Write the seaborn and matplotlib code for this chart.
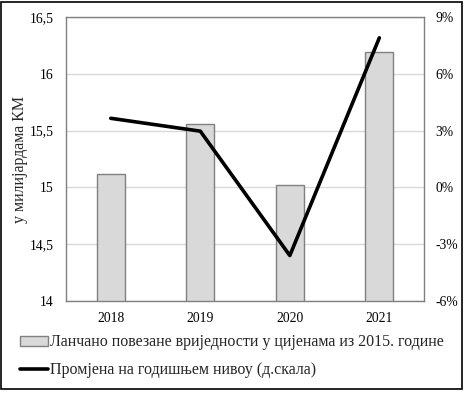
import numpy as np
import pandas as pd
import matplotlib
matplotlib.use("Agg")
import matplotlib.pyplot as plt
import seaborn as sns
from matplotlib.ticker import FuncFormatter, MultipleLocator
from matplotlib.patches import Rectangle

# -------------------------------
# Data
# -------------------------------
years = ["2018", "2019", "2020", "2021"]
gdp_bn = [15.12, 15.56, 15.02, 16.19]          # у милијардама КМ
yoy_change = [3.65, 2.97, -3.6, 7.9]           # % (десна скала)

bar_label = "Ланчано повезане вриједности у цијенама из 2015. године"
line_label = "Промјена на годишњем нивоу (д.скала)"
y_label = "у милијардама КМ"

df = pd.DataFrame({"Year": years, "GDP": gdp_bn, "Change": yoy_change})

# -------------------------------
# Style
# -------------------------------
sns.set_theme(style="white")
plt.rcParams["font.family"] = ["Liberation Serif", "DejaVu Serif"]

GRID = "#d9d9d9"
EDGE = "#808080"

fig = plt.figure(figsize=(4.65, 3.96), dpi=100)
ax = fig.add_axes([0.142, 0.240, 0.770, 0.717])

sns.barplot(data=df, x="Year", y="GDP", color="#d9d9d9", edgecolor=EDGE,
            linewidth=1.0, width=0.31, saturation=1, ax=ax, zorder=2)

ax.set_ylim(14, 16.5)
ax.yaxis.set_major_locator(MultipleLocator(0.5))
ax.yaxis.set_major_formatter(FuncFormatter(lambda v, p: f"{v:g}".replace(".", ",")))
ax.grid(axis="y", color=GRID, linewidth=1, zorder=0)
ax.set_axisbelow(True)
ax.set_xlabel("")
ax.set_ylabel(y_label, fontsize=11.5)
ax.yaxis.set_label_coords(-0.106, 0.5)
ax.tick_params(axis="both", length=0, labelsize=9.8, colors="black")
ax.tick_params(axis="x", pad=8)
ax.tick_params(axis="y", pad=9)
for s in ax.spines.values():
    s.set_color(EDGE)
    s.set_linewidth(1.0)

ax2 = ax.twinx()
sns.lineplot(x=np.arange(len(years)), y=yoy_change, color="black",
             linewidth=2.6, ax=ax2)
ax2.set_ylim(-6, 9)
ax2.yaxis.set_major_locator(MultipleLocator(3))
ax2.yaxis.set_major_formatter(FuncFormatter(lambda v, p: f"{int(round(v))}%"))
ax2.tick_params(axis="y", length=0, labelsize=9.8, pad=8, colors="black")
for s in ax2.spines.values():
    s.set_visible(False)
ax.set_xlim(-0.5, len(years) - 0.5)

# Legend below
h1 = Rectangle((0, 0), 1, 1, facecolor="#d9d9d9", edgecolor=EDGE, linewidth=1)
h2 = plt.Line2D([0], [0], color="black", linewidth=2.6)
fig.legend([h1, h2], [bar_label, line_label], loc="upper left",
           bbox_to_anchor=(0.03, 0.172), frameon=False, fontsize=11.5,
           handlelength=1.75, handleheight=0.6, handletextpad=0.1,
           labelspacing=0.75, borderaxespad=0)

# outer frame
fig.patches.append(Rectangle((0.003, 0.018), 0.991, 0.978, transform=fig.transFigure,
                             fill=False, edgecolor="black", linewidth=1.2))

fig.savefig("out.png", dpi=100)
